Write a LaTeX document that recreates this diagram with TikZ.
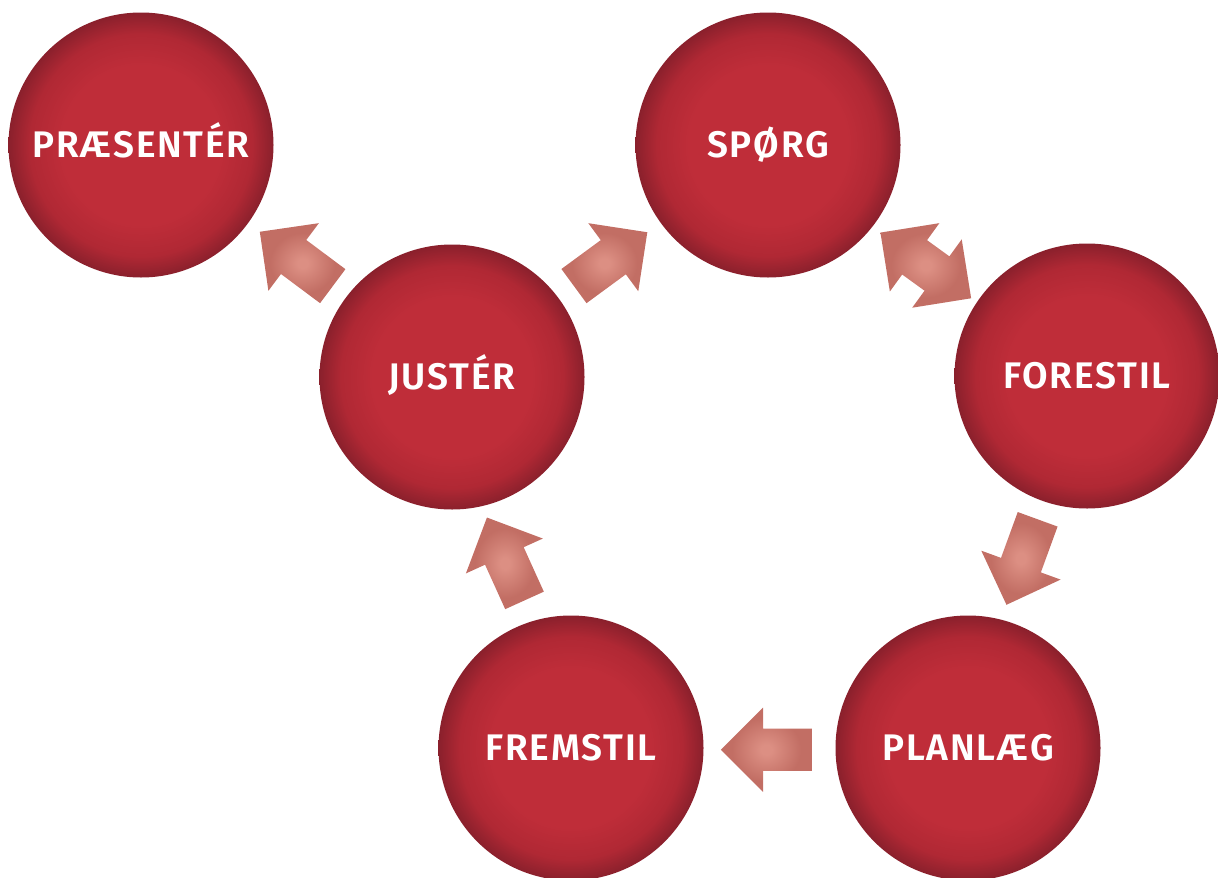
\documentclass[tikz,border=0pt]{standalone}
\usepackage{fontspec}
\setmainfont{Fira Sans}[BoldFont={Fira Sans SemiBold}]
\usetikzlibrary{shapes.arrows}
\definecolor{redin}{RGB}{191,45,57}
\definecolor{redmid}{RGB}{176,40,52}
\definecolor{redout}{RGB}{138,32,44}
\definecolor{arrin}{RGB}{220,143,131}
\definecolor{arrout}{RGB}{194,110,100}
\pgfdeclareradialshading{ballshade}{\pgfpoint{0bp}{0bp}}{color(0bp)=(redin); color(15bp)=(redin); color(21bp)=(redmid); color(25bp)=(redout); color(50bp)=(redout)}
\pgfdeclareradialshading{arrowshade}{\pgfpoint{0bp}{0bp}}{color(0bp)=(arrin); color(3bp)=(arrin); color(19bp)=(arrout); color(50bp)=(arrout)}
\tikzset{
  ball/.style={circle, minimum size=265pt, inner sep=0pt, shading=ballshade,
    text=white, font=\fontsize{37}{42}\selectfont\bfseries\addfontfeature{LetterSpace=5}, text height=25pt, text depth=0pt},
  onearrow/.style={single arrow, single arrow head extend=21pt, minimum width=84pt,
    minimum height=91pt, inner xsep=0pt, inner ysep=21pt, shading=arrowshade, sloped, allow upside down, anchor=center},
  twoarrow/.style={double arrow, double arrow head extend=21pt, minimum width=84pt,
    minimum height=112pt, inner xsep=0pt, inner ysep=21pt, shading=arrowshade, sloped, allow upside down, anchor=center}
}
\begin{document}
\begin{tikzpicture}[x=1pt,y=-1pt]
\useasboundingbox (0,0) rectangle (1218,878);
\clip (0,0) rectangle (1218,878);
\node[ball] (pra) at (141,145) {PRÆSENTÉR};
\node[ball] (spo) at (768,145) {SPØRG};
\node[ball] (jus) at (452,377) {JUSTÉR};
\node[ball] (for) at (1087,376) {FORESTIL};
\node[ball] (pla) at (968,748) {PLANLÆG};
\node[ball] (fre) at (571,748) {FREMSTIL};
\path (jus) -- node[onearrow, xshift=-9.2pt, yshift=-1.5pt] (a1) {} (pra);
\path (jus) -- node[onearrow, xshift=-9pt, yshift=1.1pt] (a2) {} (spo);
\path (spo) -- node[twoarrow, xshift=1.5pt, yshift=-5pt] (a3) {} (for);
\path (for) -- node[onearrow, rotate=-2.3, xshift=-8.7pt, yshift=-5.1pt] (a4) {} (pla);
\path (pla) -- node[onearrow, xshift=-7.4pt, yshift=1.7pt] (a5) {} (fre);
\path (fre) -- node[onearrow, rotate=6.6, xshift=-5pt, yshift=3.8pt] (a6) {} (jus);
\end{tikzpicture}
\end{document}
